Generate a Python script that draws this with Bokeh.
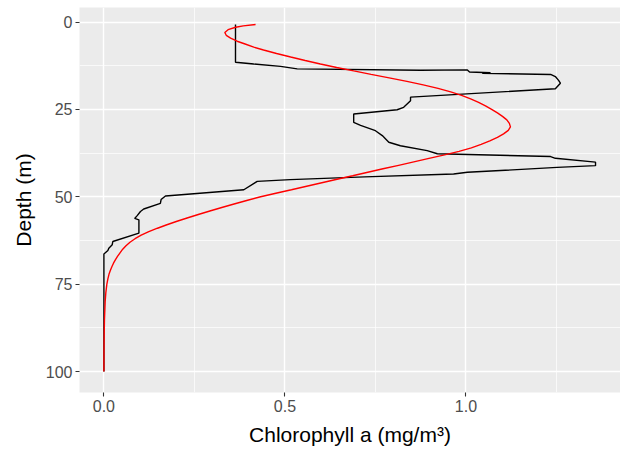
from bokeh.plotting import figure
from bokeh.models import Range1d, FixedTicker
from bokeh.embed import file_html
from bokeh.resources import INLINE

# Observed chlorophyll profile (black line)
obs_depth = [0.7, 11.5, 12.0, 12.7, 13.4, 13.8, 13.7, 14.3, 14.5, 14.7, 15.0, 15.6, 16.7, 17.5, 19.1,
             21.5, 22.5, 24.4, 25.1, 26.3, 28.7, 29.6, 31.1, 32.5, 34.4, 35.4, 36.8, 37.7, 38.5, 39.0,
             40.1, 41.1, 41.6, 43.0, 43.5, 44.3, 45.1, 45.6, 48.0, 49.8, 50.8, 51.9, 53.5, 54.2, 55.4,
             56.2, 56.6, 60.4, 62.8, 63.7, 64.7, 65.4, 66.4, 100.0]
obs_chl = [0.3635, 0.3635, 0.414, 0.488, 0.534, 0.875, 1.004, 1.01, 1.068, 1.045, 1.234, 1.247, 1.256, 1.261, 1.247,
           0.847, 0.847, 0.828, 0.810, 0.690, 0.690, 0.709, 0.750, 0.769, 0.787, 0.819, 0.893, 0.921, 1.234, 1.247,
           1.358, 1.358, 1.252, 1.004, 0.966, 0.72, 0.515, 0.4235, 0.3865, 0.170, 0.158, 0.156, 0.110, 0.101, 0.092,
           0.085, 0.0967, 0.0967, 0.0246, 0.023, 0.0136, 0.011, 0.0, 0.0]

# Fitted profile (red curve)
fit_depth = [0.7, 1.1, 1.5, 2.2, 3.0, 3.8, 4.6, 5.5, 6.3, 7.2, 8, 9, 10, 11, 12, 13, 14, 15, 16, 17, 18,
             19, 20, 21, 22, 23, 24, 25, 26, 27, 28, 29, 30, 31, 32, 33, 34, 35, 36, 37, 38, 39, 40, 41,
             42, 43, 44, 45, 46, 47, 48, 49, 50, 51, 52, 53, 54, 55, 56, 57, 58, 59, 60, 61, 62, 63, 64,
             65, 66, 67, 68, 69, 70, 71, 72, 73.5, 75, 77.5, 80, 85, 90, 95, 100]
fit_chl = [0.419, 0.385, 0.364, 0.343, 0.334, 0.338, 0.350, 0.368, 0.390, 0.414, 0.441, 0.477, 0.516, 0.556,
           0.598, 0.643, 0.690, 0.738, 0.788, 0.837, 0.882, 0.923, 0.958, 0.988, 1.013, 1.035, 1.054, 1.071,
           1.087, 1.101, 1.113, 1.120, 1.123, 1.117, 1.104, 1.087, 1.066, 1.042, 1.015, 0.981, 0.941, 0.898,
           0.856, 0.814, 0.771, 0.729, 0.687, 0.644, 0.602, 0.560, 0.518, 0.475, 0.433, 0.397, 0.362, 0.328,
           0.295, 0.263, 0.232, 0.202, 0.174, 0.148, 0.124, 0.103, 0.086, 0.072, 0.061, 0.052, 0.045, 0.038,
           0.032, 0.0265, 0.022, 0.018, 0.0145, 0.011, 0.0082, 0.0053, 0.0035, 0.0016, 0.0007, 0.0002, 0.0]

x_ticks = [0.0, 0.5, 1.0]
x_minor = [0.25, 0.75, 1.25]
y_ticks = [0, 25, 50, 75, 100]
y_minor = [12.5, 37.5, 62.5, 87.5]

p = figure(output_backend="svg", toolbar_location=None,
           frame_width=541, frame_height=385,
           x_range=Range1d(-0.0674, 1.427), y_range=Range1d(106.0, -4.15),
           min_border_left=79, min_border_right=0, min_border_top=7, min_border_bottom=50)

p.background_fill_color = "#EBEBEB"
p.border_fill_color = "white"
p.outline_line_color = None

p.xaxis.ticker = FixedTicker(ticks=x_ticks, minor_ticks=x_minor)
p.yaxis.ticker = FixedTicker(ticks=y_ticks, minor_ticks=y_minor)
p.xaxis.major_label_overrides = {0.0: "0.0", 0.5: "0.5", 1.0: "1.0"}

for g in (p.xgrid, p.ygrid):
    g.grid_line_color = "white"
    g.grid_line_width = 1.4
    g.minor_grid_line_color = "white"
    g.minor_grid_line_width = 0.7

for ax in (p.xaxis, p.yaxis):
    ax.axis_line_color = None
    ax.major_tick_in = 0
    ax.major_tick_out = 4
    ax.major_tick_line_color = "#333333"
    ax.major_tick_line_width = 1.1
    ax.minor_tick_line_color = None
    ax.major_label_text_font = "Liberation Sans"
    ax.major_label_text_font_size = "16px"
    ax.major_label_text_color = "#4D4D4D"
    ax.major_label_standoff = 3
    ax.axis_label_text_font = "Liberation Sans"
    ax.axis_label_text_font_size = "21px"
    ax.axis_label_text_font_style = "normal"
    ax.axis_label_text_color = "black"
    ax.axis_label_standoff = 8

p.xaxis.axis_label = "Chlorophyll a (mg/m³)"
p.yaxis.axis_label = "Depth (m)"

p.line(obs_chl, obs_depth, line_color="black", line_width=1.4)
p.line(fit_chl, fit_depth, line_color="red", line_width=1.4)

open("out.html", "w").write(file_html(p, INLINE))
